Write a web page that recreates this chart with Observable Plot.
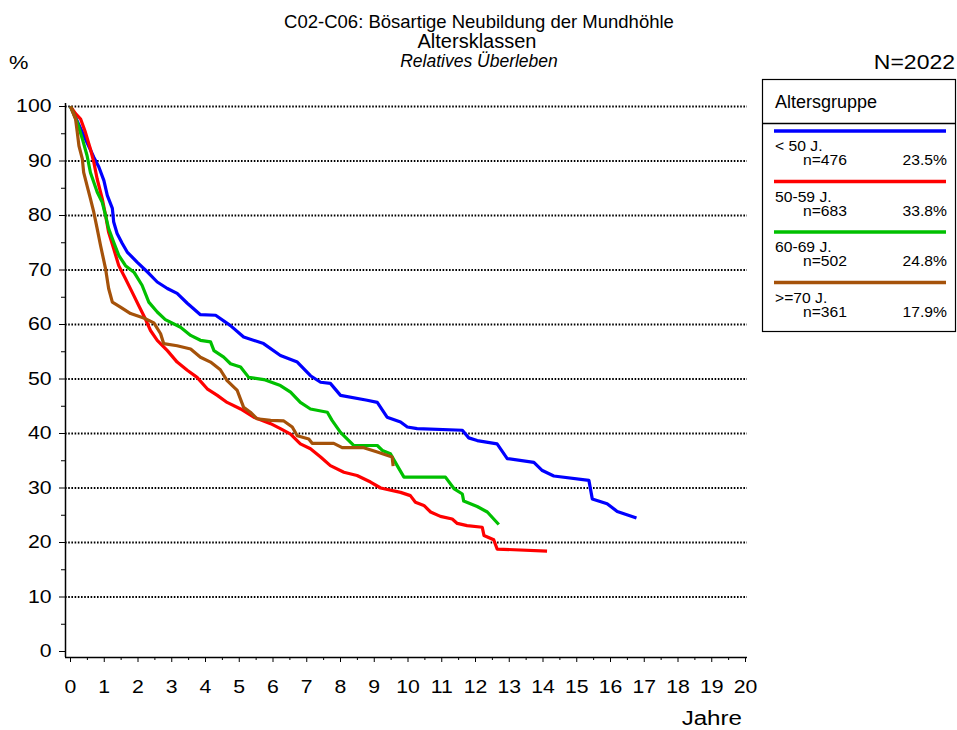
<!DOCTYPE html>
<html>
<head>
<meta charset="utf-8">
<script src="https://cdn.jsdelivr.net/npm/d3@7"></script>
<script src="https://cdn.jsdelivr.net/npm/@observablehq/plot@0.6"></script>
<style>
  body { margin: 0; background: #fff; }
  #wrap { position: relative; width: 957px; height: 730px; overflow: hidden; background: #fff; }
  #wrap svg { position: absolute; left: 0; top: 0; }
</style>
</head>
<body>
<div id="wrap"></div>
<script>
// ---------- data ----------
const groups = ["< 50 J.", "50-59 J.", "60-69 J.", ">=70 J."];
const counts = [476, 683, 502, 361];
const shares = ["23.5%", "33.8%", "24.8%", "17.9%"];
const colors = ["#0000ff", "#ff0000", "#00c000", "#a5520a"];

// [Jahre, relatives Überleben %]
const survUnder50 = [[0,100],[0.49,93.4],[0.69,90.7],[0.84,88.9],[0.99,86.4],[1.09,83.7],[1.24,81.3],[1.28,78.8],[1.38,76.7],[1.53,74.9],[1.68,73.3],[1.98,71.4],[2.32,69.4],[2.57,67.8],[2.87,66.6],[3.16,65.7],[3.46,63.9],[3.85,61.8],[4.30,61.7],[4.74,59.8],[5.13,57.7],[5.72,56.5],[6.22,54.3],[6.72,53.1],[7.11,50.6],[7.41,49.4],[7.70,49.2],[8.0,47.0],[8.79,46.1],[9.09,45.7],[9.38,43.0],[9.78,42.1],[9.98,41.2],[10.27,40.9],[11.61,40.6],[11.80,39.2],[12.05,38.7],[12.64,38.1],[12.94,35.4],[13.73,34.7],[13.98,33.2],[14.32,32.2],[15.36,31.4],[15.46,28.0],[15.90,27.1],[16.20,25.7],[16.77,24.5]];
const surv50to59 = [[0,100],[0.15,98.7],[0.30,97.7],[0.44,95.3],[0.59,92.2],[0.69,89.8],[0.79,86.7],[0.94,83.1],[1.04,80.0],[1.13,76.9],[1.28,73.9],[1.43,70.8],[1.63,68.4],[1.83,65.9],[2.02,63.5],[2.22,61.0],[2.37,58.9],[2.57,57.1],[2.87,55.2],[3.16,53.1],[3.46,51.6],[3.75,50.3],[4.05,48.2],[4.35,47.0],[4.64,45.7],[5.04,44.5],[5.43,43.0],[5.93,41.8],[6.22,40.9],[6.52,39.9],[6.81,38.1],[7.11,37.2],[7.41,35.7],[7.70,34.1],[8.10,32.9],[8.49,32.3],[8.89,31.1],[9.19,30.0],[9.78,29.2],[10.07,28.6],[10.22,27.4],[10.47,26.8],[10.67,25.6],[10.96,24.8],[11.31,24.3],[11.46,23.5],[11.75,23.1],[12.20,22.8],[12.25,21.3],[12.54,20.5],[12.64,18.8],[14.12,18.4]];
const surv60to69 = [[0,100],[0.20,97.1],[0.35,94.1],[0.49,91.0],[0.59,87.9],[0.69,86.1],[0.79,84.3],[0.94,82.4],[1.04,80.0],[1.13,77.6],[1.28,75.1],[1.43,72.7],[1.63,70.8],[1.88,69.6],[2.12,67.2],[2.32,64.1],[2.57,62.3],[2.81,60.9],[3.26,59.5],[3.56,58.0],[3.85,57.1],[4.15,56.8],[4.25,55.2],[4.54,54.0],[4.74,52.8],[5.04,52.2],[5.28,50.3],[5.73,49.9],[6.22,48.8],[6.52,47.6],[6.81,45.7],[7.11,44.5],[7.61,43.9],[7.75,42.4],[8.00,40.2],[8.39,37.8],[9.09,37.8],[9.24,36.9],[9.48,36.3],[9.68,34.1],[9.88,32.0],[11.11,32.0],[11.36,29.9],[11.61,28.9],[11.65,27.6],[12.05,26.6],[12.35,25.6],[12.69,23.3]];
const surv70plus = [[0,100],[0.15,97.7],[0.20,95.3],[0.25,92.8],[0.35,90.4],[0.39,87.9],[0.49,85.5],[0.59,83.1],[0.69,80.6],[0.79,77.6],[0.89,74.5],[1.04,70.2],[1.13,66.6],[1.24,64.1],[1.48,63.2],[1.78,62.0],[2.17,61.2],[2.47,60.3],[2.67,58.3],[2.76,56.5],[3.16,56.1],[3.56,55.5],[3.85,54.0],[4.15,53.1],[4.44,51.7],[4.64,49.7],[4.94,47.9],[5.13,44.8],[5.33,43.9],[5.53,42.7],[5.93,42.4],[6.32,42.3],[6.57,41.2],[6.72,39.6],[7.06,39.0],[7.16,38.2],[7.80,38.2],[8.05,37.4],[8.69,37.4],[9.09,36.6],[9.53,35.7],[9.56,34.0]];

const yTicks = [0, 10, 20, 30, 40, 50, 60, 70, 80, 90, 100];
const yMinorTicks = [5, 15, 25, 35, 45, 55, 65, 75, 85, 95];
const gridTicks = [10, 20, 30, 40, 50, 60, 70, 80, 90, 100];
const xTicks = [0, 1, 2, 3, 4, 5, 6, 7, 8, 9, 10, 11, 12, 13, 14, 15, 16, 17, 18, 19, 20];
const xMinorTicks = [0.5, 1.5, 2.5, 3.5, 4.5, 5.5, 6.5, 7.5, 8.5, 9.5, 10.5, 11.5, 12.5, 13.5, 14.5, 15.5, 16.5, 17.5, 18.5, 19.5];

const titleLines = ["C02-C06: Bösartige Neubildung der Mundhöhle", "Altersklassen", "Relatives Überleben"];
const yLabel = "%";
const totalLabel = "N=2022";
const xLabel = "Jahre";
const legendTitle = "Altersgruppe";

// ---------- build table ----------
const series = [survUnder50, surv50to59, surv60to69, surv70plus];
const rows = series.flatMap((s, i) => s.map(([year, surv]) => ({group: groups[i], year, surv})));

const FONT = "'Liberation Sans', Arial, Helvetica, sans-serif";

const chart = Plot.plot({
  width: 957,
  height: 730,
  marginLeft: 65,
  marginRight: 210,
  marginTop: 103,
  marginBottom: 73,
  style: {fontFamily: FONT, fontSize: "18px", color: "black", background: "transparent"},
  x: {domain: [0, 20], insetLeft: 5, insetRight: 2},
  y: {domain: [0, 100], insetTop: 3, insetBottom: 6},
  color: {domain: groups, range: colors},
  marks: [
    Plot.ruleY(gridTicks, {y: d => d, stroke: "black", strokeWidth: 1.8, strokeDasharray: "1.6,1.6"}),
    Plot.ruleX([0], {dx: -5, stroke: "black", strokeWidth: 1.5}),
    Plot.ruleY([0], {dy: 6, stroke: "black", strokeWidth: 1.5}),
    Plot.axisY(yTicks, {anchor: "left", tickSize: 6, tickPadding: 8, label: null}),
    Plot.axisY(yMinorTicks, {anchor: "left", tickSize: 4, tickFormat: () => "", label: null}),
    Plot.axisX(xTicks, {anchor: "bottom", tickSize: 5, tickPadding: 18, label: null}),
    Plot.axisX(xMinorTicks, {anchor: "bottom", tickSize: 3, tickFormat: () => "", label: null}),
    Plot.line(rows, {x: "year", y: "surv", z: "group", stroke: "group", strokeWidth: 3.2, strokeLinejoin: "round", strokeLinecap: "butt"})
  ]
});

const wrap = document.getElementById("wrap");
wrap.appendChild(chart);

// horizontal stretch of lettering, anchored at each text's own anchor point
function stretch(t, s) {
  if (s === 1) return;
  const x = parseFloat(t.getAttribute("x")) || 0;
  t.removeAttribute("x");
  const tr = t.getAttribute("transform") || "";
  t.setAttribute("transform", `${tr} translate(${x},0) scale(${s},1)`);
}
chart.querySelectorAll("text").forEach(t => stretch(t, 1.18));

// ---------- titles, labels, legend ----------
const ov = d3.select(wrap).append("svg")
  .attr("width", 957).attr("height", 730)
  .style("font-family", FONT)
  .style("pointer-events", "none");

function txt(x, y, s, size, anchor, sx, italic) {
  const t = ov.append("text")
    .attr("x", x).attr("y", y)
    .attr("text-anchor", anchor)
    .attr("font-size", size)
    .attr("font-style", italic ? "italic" : "normal")
    .attr("fill", "black")
    .text(s);
  stretch(t.node(), sx);
  return t;
}

txt(479, 28, titleLines[0], 18.5, "middle", 1);
txt(477, 48, titleLines[1], 20, "middle", 1);
txt(479, 67, titleLines[2], 17.5, "middle", 1, true);
txt(9, 69, yLabel, 19, "start", 1.15);
txt(955, 69, totalLabel, 20, "end", 1.15);
txt(742, 725, xLabel, 21, "end", 1.15);

// legend box
const lg = {x: 762.5, y: 79.5, w: 193, h: 252, head: 123.5, first: 131, step: 50.5};
ov.append("rect").attr("x", lg.x).attr("y", lg.y).attr("width", lg.w).attr("height", lg.h)
  .attr("fill", "white").attr("stroke", "black").attr("stroke-width", 1.2);
ov.append("line").attr("x1", lg.x).attr("x2", lg.x + lg.w).attr("y1", lg.head).attr("y2", lg.head)
  .attr("stroke", "black").attr("stroke-width", 1.5);
txt(775, 108, legendTitle, 18, "start", 1);
groups.forEach((g, i) => {
  const y0 = lg.first + i * lg.step;
  ov.append("line").attr("x1", 774).attr("x2", 946).attr("y1", y0).attr("y2", y0)
    .attr("stroke", colors[i]).attr("stroke-width", 3.5);
  txt(775, y0 + 20.5, g, 14, "start", 1.12);
  txt(803, y0 + 34.5, "n=" + counts[i], 14, "start", 1.12);
  txt(947, y0 + 34.5, shares[i], 14, "end", 1.12);
});
</script>
</body>
</html>
